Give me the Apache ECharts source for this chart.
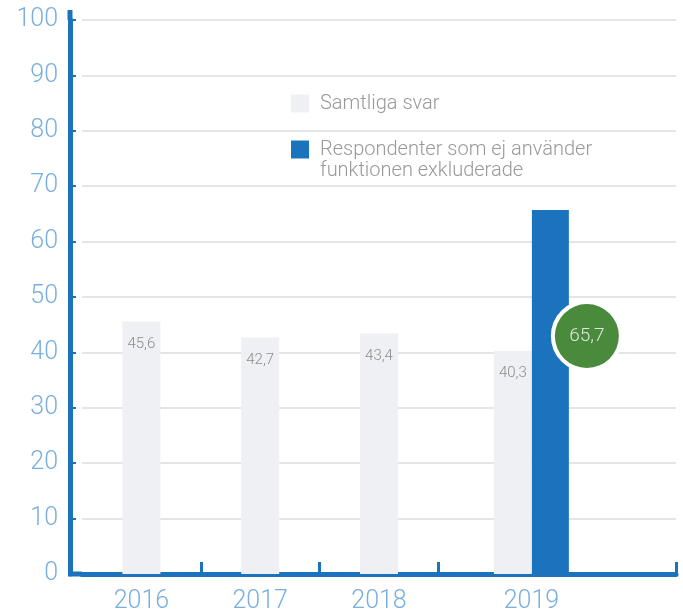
<!DOCTYPE html>
<html>
<head>
<meta charset="utf-8">
<script src="https://cdn.jsdelivr.net/npm/echarts@6/dist/echarts.min.js"></script>
<style>
    html, body { margin: 0; padding: 0; background: #fff; }
    #chart { width: 683px; height: 614px; }
</style>
</head>
<body>
<div id="chart"></div>
<script>
    // data
    const years = ['2016', '2017', '2018', '2019'];
    const samtligaSvar = [45.6, 42.7, 43.4, 40.3];
    const exkluderade = [null, null, null, 65.7];
    const yMin = 0, yMax = 100, yStep = 10;

    const nameAll = 'Samtliga svar';
    const nameExcl = 'Respondenter som ej använder\nfunktionen exkluderade';
    const pairIndex = 3; // 2019 has both bars, drawn on its own grid

    const axisBlue = '#1d72bc';
    const labelBlue = '#78afe0';
    const font = 'Roboto';

    const cats = years.concat(['']);
    const fmt = p => String(p.value).replace('.', ',');

    const grayLabel = {
        show: true, position: 'insideTop', distance: 15,
        color: '#8c8c8c', fontSize: 15, fontFamily: font, fontWeight: 300,
        formatter: fmt
    };
    const legendText = {color: '#999', fontSize: 20, fontWeight: 300, lineHeight: 21, padding: [0, 0, 0, 6]};

    let option = {
        animation: false,
        textStyle: {fontFamily: font},
        legend: [
            {
                orient: 'vertical', left: 286, top: 88,
                itemWidth: 18, itemHeight: 18, icon: 'rect', selectedMode: false,
                textStyle: legendText,
                data: [nameAll]
            },
            {
                // leading blank line keeps the icon level with the first text line
                orient: 'vertical', left: 286, top: 113,
                itemWidth: 18, itemHeight: 18, icon: 'rect', selectedMode: false,
                textStyle: legendText,
                formatter: n => '\n' + n,
                data: [nameExcl]
            }
        ],
        grid: [
            {left: 82, right: 7, top: 20, bottom: 38},
            {left: 114, width: 477, top: 20, bottom: 38}
        ],
        xAxis: [
            {
                type: 'category', gridIndex: 0, data: cats,
                axisLine: {
                    lineStyle: {color: axisBlue, width: 5, cap: 'round'},
                    symbol: ['rect', 'none'], symbolSize: [5, 14], symbolOffset: [-7, 0]
                },
                axisTick: {
                    show: true, inside: true, length: 12,
                    lineStyle: {color: axisBlue, width: 3},
                    interval: i => i >= 1 && i <= 3
                },
                axisLabel: {
                    color: labelBlue, fontSize: 25, fontWeight: 300, margin: 15,
                    interval: i => i < pairIndex
                }
            },
            {
                type: 'category', gridIndex: 1, data: years,
                axisLine: {show: false},
                axisTick: {show: false},
                axisLabel: {
                    color: labelBlue, fontSize: 25, fontWeight: 300, margin: 15,
                    interval: i => i === pairIndex
                }
            }
        ],
        yAxis: [
            {
                type: 'value', gridIndex: 0, min: yMin, max: yMax, interval: yStep,
                offset: 12,
                axisLine: {
                    show: true,
                    lineStyle: {color: axisBlue, width: 5, cap: 'round'},
                    symbol: ['none', 'rect'], symbolSize: [5, 10], symbolOffset: [0, 5]
                },
                axisTick: {show: true, inside: true, length: 6, lineStyle: {color: axisBlue, width: 2}},
                axisLabel: {color: labelBlue, fontSize: 25, fontWeight: 300, margin: 12},
                splitLine: {lineStyle: {color: '#dcdcdc', width: 1.5}}
            },
            {
                type: 'value', gridIndex: 1, min: yMin, max: yMax, interval: yStep,
                show: false, splitLine: {show: false}
            }
        ],
        series: [
            {
                name: nameAll, type: 'bar', xAxisIndex: 0, yAxisIndex: 0,
                barWidth: 38,
                itemStyle: {color: '#eff0f4'},
                label: grayLabel,
                data: samtligaSvar.map((v, i) => i === pairIndex ? '-' : v)
            },
            {
                name: nameAll, type: 'bar', xAxisIndex: 1, yAxisIndex: 1,
                barWidth: 38, barGap: 0,
                itemStyle: {color: '#eff0f4'},
                label: grayLabel,
                data: samtligaSvar.map((v, i) => i === pairIndex ? v : '-')
            },
            {
                name: nameExcl, type: 'bar', xAxisIndex: 1, yAxisIndex: 1,
                barWidth: 37, barGap: 0,
                itemStyle: {color: '#1b72bd'},
                label: {
                    show: true,
                    position: [55, 126],
                    align: 'center', verticalAlign: 'middle',
                    width: 64, height: 64, lineHeight: 64,
                    backgroundColor: '#4a8a3d',
                    borderColor: '#fff', borderWidth: 4, borderRadius: 40,
                    color: '#dfe6dc', fontSize: 19, fontWeight: 300,
                    formatter: fmt
                },
                data: exkluderade.map(v => v == null ? '-' : v)
            }
        ]
    };

    let myChart = echarts.init(document.getElementById('chart'));
    myChart.setOption(option);
</script>
</body>
</html>
